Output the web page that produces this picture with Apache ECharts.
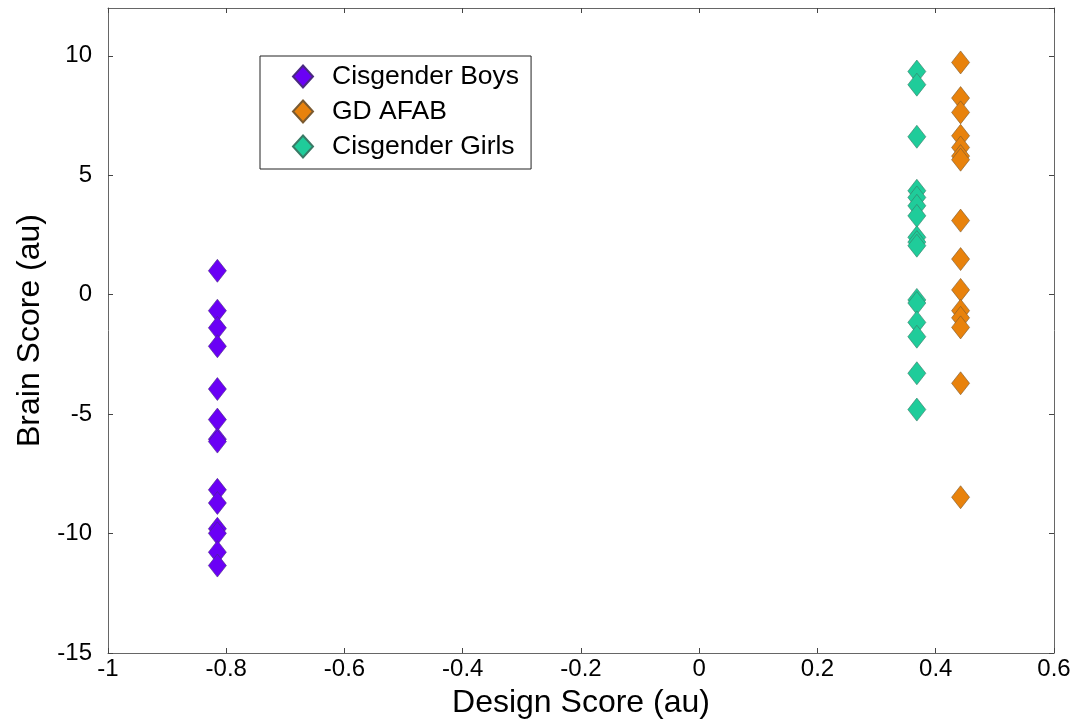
<!DOCTYPE html>
<html><head><meta charset="utf-8">
<script src="https://cdn.jsdelivr.net/npm/echarts@6/dist/echarts.min.js"></script>
<style>html,body{margin:0;padding:0;background:#fff}#c{width:1077px;height:723px}</style>
</head><body><div id="c"></div>
<script>
const seriesNames = ['Cisgender Boys', 'GD AFAB', 'Cisgender Girls'];
const xBoys = -0.815, xAfab = 0.442, xGirls = 0.368;
const boysY = [1.0, -0.67, -1.39, -2.16, -3.95, -5.23, -6.05, -6.15, -8.17, -8.72, -9.8, -9.99, -10.78, -11.34];
const afabY = [9.72, 8.23, 7.63, 6.65, 6.16, 5.8, 5.65, 3.1, 1.49, 0.2, -0.67, -0.97, -1.37, -3.71, -8.48];
const girlsY = [9.34, 8.79, 6.61, 4.35, 4.07, 3.72, 3.3, 2.4, 2.2, 2.05, -0.22, -0.35, -1.16, -1.76, -3.29, -4.81];
const colors = ['#6a00f5', '#e8820c', '#1fcc9a'];

const chart = echarts.init(document.getElementById('c'));
const font = 'Liberation Sans, Arial, Helvetica, sans-serif';
function pts(x, ys){ return ys.map(y => [x, y]); }
const axLine = {show: true, onZero: false, lineStyle: {color: '#666', width: 1}};
const tick = {show: true, inside: true, length: 5, lineStyle: {color: '#444'}};
chart.setOption({
  animation: false,
  grid: {left: 108, top: 8, right: 23, bottom: 70, containLabel: false, outerBoundsMode: 'none'},
  legend: {
    orient: 'vertical', left: 260, top: 56, padding: [7, 12, 9, 32],
    itemGap: 8, itemWidth: 20, itemHeight: 22,
    borderColor: '#222', borderWidth: 1, backgroundColor: '#fff',
    textStyle: {fontFamily: font, fontSize: 26.5, color: '#000', padding: [0, 0, 0, 14], lineHeight: 26},
    data: seriesNames.map(n => ({name: n, icon: 'diamond'}))
  },
  xAxis: [
    {type: 'value', min: -1, max: 0.6, interval: 0.2, position: 'bottom',
     name: 'Design Score (au)', nameLocation: 'middle', nameGap: 34,
     nameTextStyle: {fontFamily: font, fontSize: 32, color: '#000'},
     axisLine: axLine, axisTick: tick, splitLine: {show: false},
     axisLabel: {fontFamily: font, fontSize: 24, color: '#000', margin: 4,
       formatter: v => String(Math.round(v * 10) / 10)}},
    {type: 'value', min: -1, max: 0.6, interval: 0.2, position: 'top',
     axisLine: axLine, axisTick: tick, axisLabel: {show: false}, splitLine: {show: false}}
  ],
  yAxis: [
    {type: 'value', min: -15, max: 12, interval: 5, position: 'left',
     name: 'Brain Score (au)', nameLocation: 'middle', nameGap: 60, nameRotate: 90,
     nameTextStyle: {fontFamily: font, fontSize: 32, color: '#000'},
     axisLine: axLine, axisTick: tick, splitLine: {show: false},
     axisLabel: {fontFamily: font, fontSize: 24, color: '#000', margin: 16,
       showMaxLabel: false}},
    {type: 'value', min: -15, max: 12, interval: 5, position: 'right',
     axisLine: axLine, axisTick: tick, axisLabel: {show: false}, splitLine: {show: false}}
  ],
  series: [
    {name: seriesNames[0], type: 'scatter', symbol: 'diamond', symbolSize: [18, 23],
     itemStyle: {color: colors[0], borderColor: '#4a2a80', borderWidth: 0.6, opacity: 1}, data: pts(xBoys, boysY)},
    {name: seriesNames[1], type: 'scatter', symbol: 'diamond', symbolSize: [18, 23],
     itemStyle: {color: colors[1], borderColor: '#7a5a30', borderWidth: 0.6, opacity: 1}, data: pts(xAfab, afabY)},
    {name: seriesNames[2], type: 'scatter', symbol: 'diamond', symbolSize: [18, 23],
     itemStyle: {color: colors[2], borderColor: '#3a7a66', borderWidth: 0.6, opacity: 1}, data: pts(xGirls, girlsY)}
  ]
});
</script></body></html>
